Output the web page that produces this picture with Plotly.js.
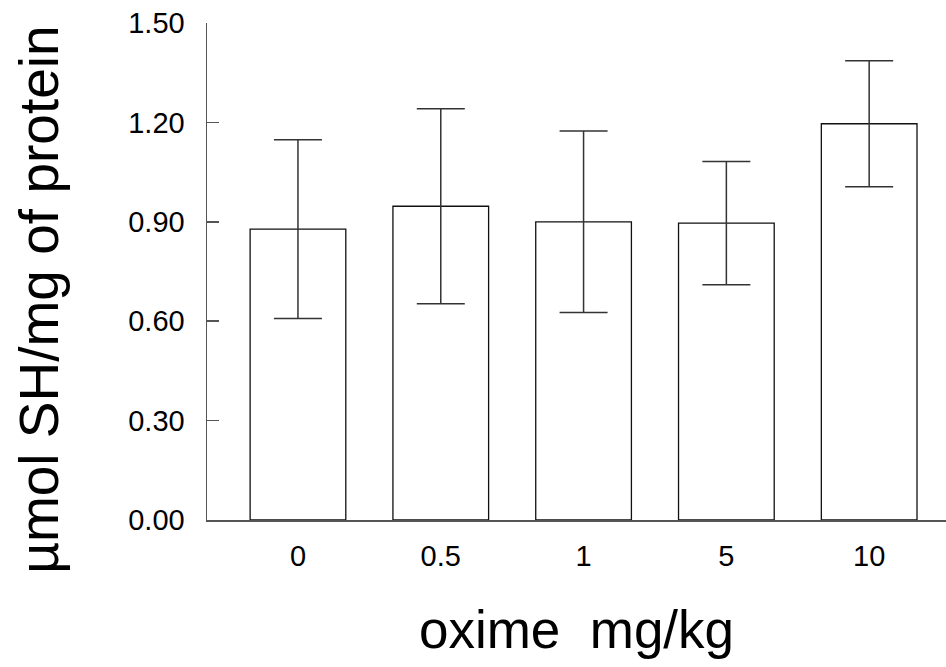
<!DOCTYPE html>
<html>
<head>
<meta charset="utf-8">
<script src="https://cdn.plot.ly/plotly-3.0.1.min.js"></script>
<style>html,body{margin:0;padding:0;background:#fff;}#chart{width:946px;height:667px;}</style>
</head>
<body>
<div id="chart"></div>
<script>
const categories = ["0", "0.5", "1", "5", "10"];
const means = [0.878, 0.947, 0.900, 0.896, 1.196];
const errors = [0.270, 0.294, 0.274, 0.186, 0.190];
const yTickVals = [0, 0.3, 0.6, 0.9, 1.2, 1.5];
const yTickText = ["0.00", "0.30", "0.60", "0.90", "1.20", "1.50"];
const xTitle = "oxime\u00a0\u00a0mg/kg";
const yTitle = "\u00b5mol SH/mg of protein";

const FONT = "Liberation Sans, Arial, sans-serif";

const trace = {
  type: "bar",
  x: categories,
  y: means,
  marker: {color: "#ffffff", line: {color: "#111111", width: 1.3}},
  error_y: {type: "data", array: errors, visible: true, color: "#333333", thickness: 1.5, width: 24},
  hoverinfo: "none"
};

const layout = {
  width: 946, height: 667,
  margin: {l: 207, r: 0, t: 23, b: 146.5, pad: 0},
  paper_bgcolor: "#ffffff", plot_bgcolor: "#ffffff",
  bargap: 0.33,
  showlegend: false,
  font: {family: FONT, color: "#000"},
  xaxis: {
    type: "category",
    range: [-0.637, 4.538],
    showline: true, linecolor: "#555555", linewidth: 1.5,
    showgrid: false, zeroline: false,
    ticks: "", ticklabelstandoff: 10,
    tickfont: {family: FONT, size: 29, color: "#000"},
    title: {text: xTitle, font: {family: FONT, size: 53, color: "#000"}, standoff: 39}
  },
  yaxis: {
    range: [0, 1.5],
    showline: true, linecolor: "#555555", linewidth: 1.5,
    showgrid: false, zeroline: false,
    ticks: "inside", ticklen: 12, tickwidth: 1.5, tickcolor: "#555555",
    tickvals: yTickVals, ticktext: yTickText,
    ticklabelstandoff: 15,
    tickfont: {family: FONT, size: 29, color: "#000"}
  },
  annotations: [{
    text: yTitle, textangle: -90,
    xref: "paper", yref: "paper",
    x: (39 - 207) / 739, y: (520.5 - 300) / 497.5,
    xanchor: "center", yanchor: "middle",
    showarrow: false,
    font: {family: FONT, size: 55, color: "#000"}
  }]
};

Plotly.newPlot("chart", [trace], layout, {staticPlot: true, displayModeBar: false});
</script>
</body>
</html>
